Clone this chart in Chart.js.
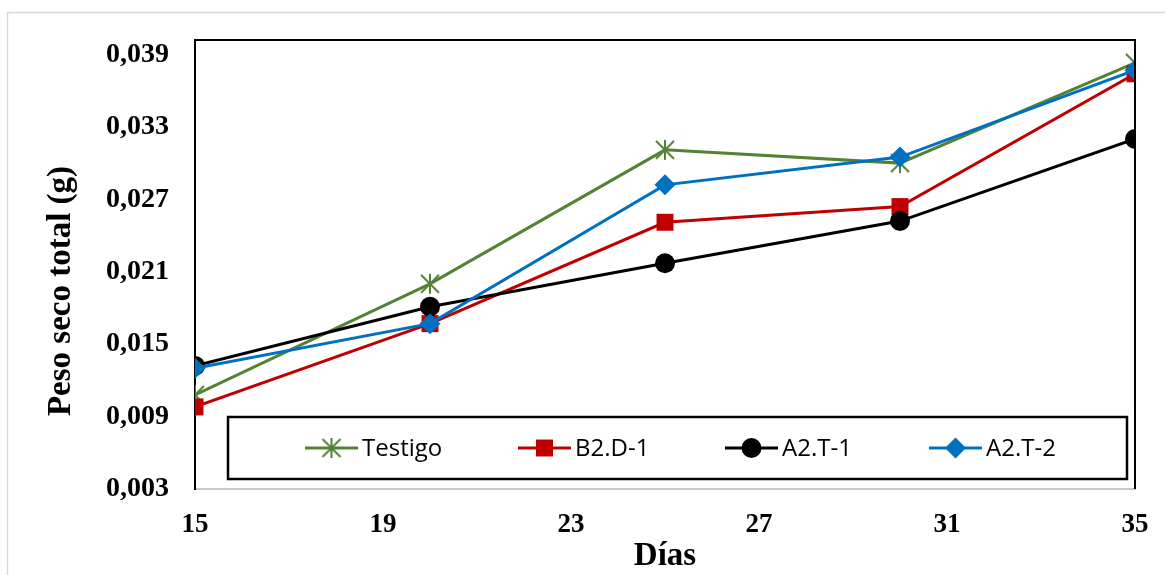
<!DOCTYPE html>
<html>
<head>
<meta charset="utf-8">
<script src="https://cdn.jsdelivr.net/npm/chart.js@4.4.1/dist/chart.umd.min.js"></script>
<style>
  body { margin: 0; background: #fff; }
  canvas { display: block; }
</style>
</head>
<body>
<canvas id="chart" width="1165" height="575"></canvas>
<script>
// days and dry weight per treatment
const dias = [15, 20, 25, 30, 35];
const testigo = [0.0108, 0.0200, 0.0311, 0.0300, 0.0383];
const b2d1 = [0.0098, 0.0167, 0.0251, 0.0264, 0.0374];
const a2t1 = [0.0132, 0.0181, 0.0217, 0.0252, 0.0320];
const a2t2 = [0.0130, 0.0167, 0.0282, 0.0305, 0.0377];
const seriesNames = ['Testigo', 'B2.D-1', 'A2.T-1', 'A2.T-2'];
const xTicks = [15, 19, 23, 27, 31, 35];
const yTicks = [0.003, 0.009, 0.015, 0.021, 0.027, 0.033, 0.039];

const serif = '"Liberation Serif", "Times New Roman", serif';

// asterisk marker like excel's star
function starMarker(color) {
  const c = document.createElement('canvas');
  c.width = 22; c.height = 22;
  const g = c.getContext('2d');
  g.strokeStyle = color;
  g.lineWidth = 2;
  g.beginPath();
  g.moveTo(11, 1); g.lineTo(11, 21);
  g.moveTo(2, 2); g.lineTo(20, 20);
  g.moveTo(20, 2); g.lineTo(2, 20);
  g.stroke();
  return c;
}

function pts(vals) {
  return dias.map((d, i) => ({ x: d, y: vals[i] }));
}

const datasets = [
  { label: seriesNames[0], data: pts(testigo), borderColor: '#548235', backgroundColor: '#548235',
    pointStyle: starMarker('#548235'), pointRadius: 10, order: 4 },
  { label: seriesNames[1], data: pts(b2d1), borderColor: '#C00000', backgroundColor: '#C00000',
    pointStyle: 'rect', pointRadius: 12, order: 3 },
  { label: seriesNames[2], data: pts(a2t1), borderColor: '#000000', backgroundColor: '#000000',
    pointStyle: 'circle', pointRadius: 10, order: 2 },
  { label: seriesNames[3], data: pts(a2t2), borderColor: '#0070C0', backgroundColor: '#0070C0',
    pointStyle: 'rectRot', pointRadius: 10.5, order: 1 }
];
datasets.forEach(d => {
  d.borderWidth = 3;
  d.pointBorderWidth = 0;
  d.pointHoverRadius = d.pointRadius;
  d.tension = 0;
});

const framePlugin = {
  id: 'frame',
  beforeDraw(chart) {
    const ctx = chart.ctx;
    ctx.save();
    ctx.strokeStyle = '#d9d9d9';
    ctx.lineWidth = 1.5;
    ctx.strokeRect(7.5, 12.5, 1300, 700);
    ctx.restore();
  },
  afterDatasetsDraw(chart) {
    const ctx = chart.ctx;
    const a = chart.chartArea;
    ctx.save();
    // top and right border of plot
    ctx.strokeStyle = '#000';
    ctx.lineWidth = 2;
    ctx.beginPath();
    ctx.moveTo(a.left, a.top);
    ctx.lineTo(a.right, a.top);
    ctx.lineTo(a.right, a.bottom);
    ctx.stroke();

    // legend box
    const bx = 228, by = 417, bw = 899, bh = 62;
    ctx.fillStyle = '#fff';
    ctx.fillRect(bx, by, bw, bh);
    ctx.lineWidth = 2.5;
    ctx.strokeRect(bx, by, bw, bh);
    const starts = [305, 518, 725, 929];
    const cy = 448;
    chart.data.datasets.forEach((ds, i) => {
      const x0 = starts[i], x1 = x0 + 53;
      ctx.strokeStyle = ds.borderColor;
      ctx.lineWidth = 3;
      ctx.beginPath();
      ctx.moveTo(x0, cy);
      ctx.lineTo(x1, cy);
      ctx.stroke();
      ctx.fillStyle = ds.backgroundColor;
      Chart.helpers.drawPoint(ctx, { pointStyle: ds.pointStyle, radius: ds.pointRadius, borderWidth: 0, rotation: 0 }, (x0 + x1) / 2, cy);
      ctx.fillStyle = '#000';
      ctx.font = '24px "Open Sans", "Liberation Sans", sans-serif';
      ctx.textAlign = 'left';
      ctx.textBaseline = 'middle';
      ctx.fillText(ds.label, x1 + 4, cy + 1);
    });

    // axis titles
    ctx.fillStyle = '#000';
    ctx.font = 'bold 33px ' + serif;
    ctx.textAlign = 'center';
    ctx.textBaseline = 'alphabetic';
    ctx.fillText('Días', (a.left + a.right) / 2, 565);
    ctx.translate(70, 291);
    ctx.rotate(-Math.PI / 2);
    ctx.fillText('Peso seco total (g)', 0, 0);
    ctx.restore();
  }
};

new Chart(document.getElementById('chart'), {
  type: 'line',
  data: { datasets: datasets },
  plugins: [framePlugin],
  options: {
    responsive: false,
    animation: false,
    layout: { padding: { left: 0, top: 40, right: 30, bottom: 0 } },
    plugins: { legend: { display: false }, tooltip: { enabled: false } },
    scales: {
      x: {
        type: 'linear',
        min: 15, max: 35,
        afterBuildTicks: s => { s.ticks = xTicks.map(v => ({ value: v })); },
        afterFit: s => { s.height = 86; s.paddingLeft = 0; s.paddingRight = 0; },
        grid: { display: false, drawTicks: false },
        border: { display: true, color: '#c8c8c8', width: 2 },
        ticks: { color: '#000', padding: 20, font: { family: serif, size: 27, weight: 'bold' } }
      },
      y: {
        min: 0.003, max: 0.0402,
        afterBuildTicks: s => { s.ticks = yTicks.map(v => ({ value: v })); },
        afterFit: s => { s.width = 195; s.paddingTop = 0; s.paddingBottom = 0; },
        grid: { display: false, drawTicks: false },
        border: { display: true, color: '#000', width: 2 },
        ticks: {
          color: '#000', padding: 26, font: { family: serif, size: 28, weight: 'bold' },
          callback: v => v.toFixed(3).replace('.', ',')
        }
      }
    }
  }
});
</script>
</body>
</html>
